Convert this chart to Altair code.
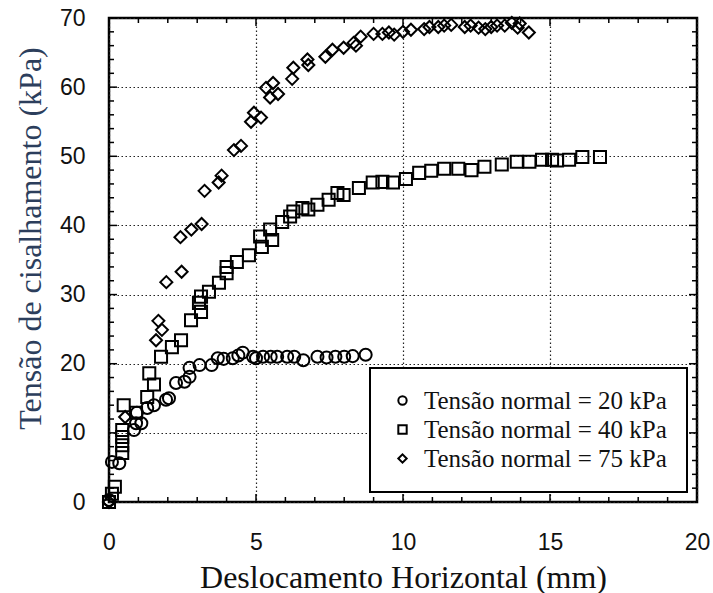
import altair as alt
import pandas as pd

# Direct shear test: horizontal displacement (mm) vs shear stress (kPa)
x_20 = [0.0, 0.1, 0.35, 0.85, 0.92, 1.1, 0.95, 1.3, 1.53, 1.94,
        2.04, 2.28, 2.57, 2.74, 2.74, 3.08, 3.49, 3.7, 3.9, 4.21,
        4.4, 4.55, 4.9, 5.0, 5.24, 5.5, 5.72, 6.06, 6.3, 6.61,
        7.09, 7.4, 7.7, 8.0, 8.29, 8.73]
y_20 = [0.3, 5.8, 5.6, 10.4, 11.4, 11.4, 12.9, 13.6, 14.0, 14.8,
        15.0, 17.2, 17.4, 18.1, 19.4, 19.8, 19.8, 20.8, 20.7, 20.8,
        21.2, 21.6, 21.0, 20.8, 21.0, 21.0, 21.0, 21.0, 21.0, 20.5,
        21.0, 20.9, 21.0, 21.0, 21.1, 21.3]

x_40 = [0.0, 0.1, 0.2, 0.45, 0.45, 0.45, 0.45, 0.5, 0.92, 1.3,
        1.37, 1.53, 1.77, 2.14, 2.45, 2.79, 3.13, 3.06, 3.13, 3.4,
        3.74, 4.0, 4.0, 4.35, 4.76, 5.14, 5.2, 5.48, 5.55, 5.89,
        6.16, 6.27, 6.58, 6.78, 7.09, 7.47, 7.77, 7.98, 8.5, 8.97,
        9.3, 9.66, 10.1, 10.55, 10.96, 11.4, 11.88, 12.33, 12.77, 13.36,
        13.87, 14.3, 14.73, 15.07, 15.24, 15.65, 16.1, 16.7]
y_40 = [0.0, 1.2, 2.2, 7.1, 8.2, 9.4, 10.4, 14.0, 12.9, 15.2,
        18.6, 17.0, 21.0, 22.4, 23.4, 26.3, 27.5, 28.8, 29.7, 30.4,
        31.7, 33.1, 34.0, 34.7, 35.7, 38.4, 36.9, 39.4, 37.9, 40.5,
        41.3, 42.0, 42.5, 42.3, 43.0, 43.7, 44.7, 44.4, 45.4, 46.2,
        46.3, 46.2, 46.7, 47.6, 47.9, 48.2, 48.2, 48.0, 48.5, 48.8,
        49.2, 49.2, 49.5, 49.5, 49.4, 49.5, 49.9, 49.9]

x_75 = [0.0, 0.55, 1.6, 1.8, 1.68, 1.95, 2.47, 2.43, 2.8, 3.15,
        3.25, 3.73, 3.83, 4.25, 4.49, 4.83, 4.93, 5.17, 5.34, 5.58,
        5.48, 5.75, 6.23, 6.27, 6.75, 6.78, 7.36, 7.6, 7.98, 8.32,
        8.4, 8.56, 9.0, 9.3, 9.52, 9.7, 10.0, 10.27, 10.72, 10.9,
        11.2, 11.4, 11.64, 12.1, 12.3, 12.57, 12.8, 13.0, 13.2, 13.46,
        13.7, 13.9, 13.97, 14.28]
y_75 = [0.0, 12.3, 23.4, 24.9, 26.2, 31.8, 33.3, 38.3, 39.4, 40.2,
        45.0, 46.2, 47.2, 50.9, 51.5, 55.0, 56.3, 55.6, 59.9, 60.6,
        58.5, 59.0, 61.2, 62.8, 64.0, 63.2, 64.4, 65.4, 65.7, 66.4,
        66.0, 67.3, 67.7, 67.7, 67.9, 67.6, 68.0, 68.3, 68.4, 68.7,
        68.7, 68.9, 69.0, 68.7, 68.9, 68.6, 68.4, 68.7, 68.9, 68.9,
        69.3, 68.6, 69.2, 67.9]

series_labels = ["Tensão normal = 20 kPa", "Tensão normal = 40 kPa", "Tensão normal = 75 kPa"]

x_major = [0, 5, 10, 15, 20]
x_minor = [1, 2, 3, 4, 6, 7, 8, 9, 11, 12, 13, 14, 16, 17, 18, 19]
y_major = [0, 10, 20, 30, 40, 50, 60, 70]
y_minor = [2, 4, 6, 8, 12, 14, 16, 18, 22, 24, 26, 28, 32, 34, 36, 38,
           42, 44, 46, 48, 52, 54, 56, 58, 62, 64, 66, 68]

x_title = "Deslocamento Horizontal (mm)"
y_title = "Tensão de cisalhamento (kPa)"

df = pd.concat([
    pd.DataFrame({"x": x_20, "y": y_20, "serie": series_labels[0]}),
    pd.DataFrame({"x": x_40, "y": y_40, "serie": series_labels[1]}),
    pd.DataFrame({"x": x_75, "y": y_75, "serie": series_labels[2]}),
], ignore_index=True)

SERIF = "Liberation Serif"
SANS = "Liberation Sans"

xs = alt.Scale(domain=[0, 20], nice=False, zero=False)
ys = alt.Scale(domain=[0, 70], nice=False, zero=False)

x_axis = alt.Axis(
    values=x_major, format="d", grid=True, gridDash=[1.5, 2.5], gridColor="#222",
    gridWidth=1.2, domain=False, ticks=False, tickSize=0, labelPadding=29,
    labelFlush=False, labelOverlap=False,
    labelFont=SANS, labelFontSize=23, labelColor="#111", labelBaseline="top",
    titleFont=SERIF, titleFontSize=32, titleFontWeight="normal", titleColor="#111",
    titleX=294, titleY=75, titleAlign="center", titleBaseline="middle",
)
y_axis = alt.Axis(
    values=y_major, format="d", grid=True, gridDash=[1.5, 2.5], gridColor="#222",
    gridWidth=1.2, domain=False, ticks=False, tickSize=0, labelPadding=24,
    labelFlush=False, labelOverlap=False,
    labelFont=SANS, labelFontSize=23, labelColor="#111",
    titleFont=SERIF, titleFontSize=32, titleFontWeight="normal", titleColor="#2c3e5c",
    titleX=-79, titleY=220, titleAngle=270, titleAlign="center", titleBaseline="middle",
)

points = alt.Chart(df).mark_point(
    filled=False, strokeWidth=2, opacity=1, color="black", size=145
).encode(
    x=alt.X("x:Q", scale=xs, axis=x_axis, title=x_title),
    y=alt.Y("y:Q", scale=ys, axis=y_axis, title=y_title),
    shape=alt.Shape(
        "serie:N",
        scale=alt.Scale(domain=series_labels, range=["circle", "square", "diamond"]),
        legend=alt.Legend(
            title=None, orient="bottom-right", offset=10, direction="vertical",
            strokeColor="black", fillColor="white", padding=20,
            labelFont=SERIF, labelFontSize=25, labelColor="#111", labelOffset=9,
            labelLimit=500, rowPadding=3, symbolSize=70, symbolStrokeWidth=2,
            symbolStrokeColor="black", symbolFillColor="white",
        ),
    ),
)


# Inward-pointing tick marks on all four sides of the frame (clipped half of a centred tick)
def side_ticks(values, length, orient, fixed_channel, fixed_value):
    d = pd.DataFrame({"v": values})
    mark = alt.Chart(d).mark_tick(
        orient=orient, size=length, thickness=1.5, color="black", clip=True, opacity=1
    )
    if fixed_channel == "x":
        return mark.encode(
            x=alt.X(datum=fixed_value, scale=xs, axis=x_axis, title=x_title),
            y=alt.Y("v:Q", scale=ys, axis=y_axis, title=y_title),
        )
    return mark.encode(
        x=alt.X("v:Q", scale=xs, axis=x_axis, title=x_title),
        y=alt.Y(datum=fixed_value, scale=ys, axis=y_axis, title=y_title),
    )


tick_layers = [
    side_ticks(y_major, 16, "horizontal", "x", 0),
    side_ticks(y_minor, 10, "horizontal", "x", 0),
    side_ticks(y_major, 16, "horizontal", "x", 20),
    side_ticks(y_minor, 10, "horizontal", "x", 20),
    side_ticks(x_major, 16, "vertical", "y", 0),
    side_ticks(x_minor, 10, "vertical", "y", 0),
    side_ticks(x_major, 16, "vertical", "y", 70),
    side_ticks(x_minor, 10, "vertical", "y", 70),
]

chart = alt.layer(*tick_layers, points).properties(
    width=588,
    height=484,
    padding={"left": 109, "top": 18, "right": 16, "bottom": 91},
    autosize=alt.AutoSizeParams(type="none"),
    background="white",
).configure(
    font=SERIF
).configure_view(
    stroke="black", strokeWidth=2.5
).configure_legend(
    strokeWidth=2, labelFont=SERIF, labelFontSize=25, labelColor="#111"
)

chart.save("out.html", embed_options={"renderer": "svg", "actions": False})
